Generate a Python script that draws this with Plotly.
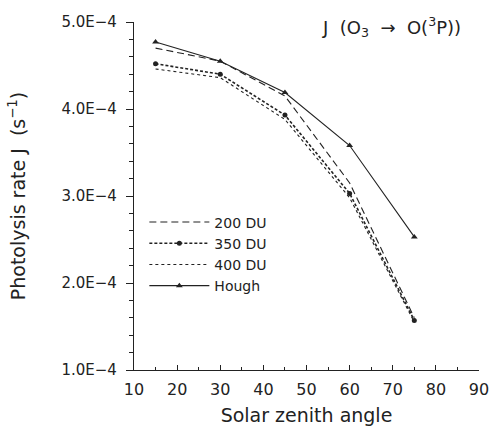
import plotly.graph_objects as go

# Solar zenith angle (degrees)
sza = [15, 30, 45, 60, 75]

# Photolysis rate J(O3 -> O(3P)) in s^-1
j_200du = [4.70e-4, 4.55e-4, 4.15e-4, 3.15e-4, 1.60e-4]
j_350du = [4.52e-4, 4.40e-4, 3.93e-4, 3.03e-4, 1.57e-4]
j_400du = [4.46e-4, 4.36e-4, 3.88e-4, 2.98e-4, 1.55e-4]
j_hough = [4.77e-4, 4.55e-4, 4.19e-4, 3.58e-4, 2.53e-4]

y_tickvals = [1.0e-4, 2.0e-4, 3.0e-4, 4.0e-4, 5.0e-4]
y_ticktext = ["1.0E\u22124", "2.0E\u22124", "3.0E\u22124", "4.0E\u22124", "5.0E\u22124"]
x_tickvals = [10, 20, 30, 40, 50, 60, 70, 80, 90]

FONT = "DejaVu Sans"
INK = "#222222"

fig = go.Figure()

fig.add_trace(go.Scatter(
    x=sza, y=j_200du, name="200 DU", mode="lines",
    line=dict(color=INK, width=1.1, dash="7px,4px"),
))
fig.add_trace(go.Scatter(
    x=sza, y=j_350du, name="350 DU", mode="lines+markers",
    line=dict(color=INK, width=1.6, dash="3px,2px"),
    marker=dict(symbol="circle", size=5, color=INK),
))
fig.add_trace(go.Scatter(
    x=sza, y=j_400du, name="400 DU", mode="lines",
    line=dict(color=INK, width=1.1, dash="dot"),
))
fig.add_trace(go.Scatter(
    x=sza, y=j_hough, name="Hough", mode="lines+markers",
    line=dict(color=INK, width=1.1),
    marker=dict(symbol="triangle-up", size=6, color=INK),
))

fig.add_annotation(
    text="J  (O<sub>3</sub>  \u2192  O(<sup>3</sup>P))",
    xref="paper", yref="paper", x=0.955, y=0.985,
    xanchor="right", yanchor="middle", showarrow=False,
    font=dict(family=FONT, size=18, color=INK),
)

fig.update_layout(
    width=489, height=426,
    margin=dict(l=134, r=10, t=22, b=56),
    paper_bgcolor="white", plot_bgcolor="white",
    font=dict(family=FONT, size=15, color=INK),
    showlegend=True,
    legend=dict(
        x=0.03, y=0.47, xanchor="left", yanchor="top",
        bgcolor="rgba(0,0,0,0)", itemwidth=60,
        font=dict(family=FONT, size=14, color=INK),
        tracegroupgap=0,
    ),
    xaxis=dict(
        range=[10, 90], tickmode="array", tickvals=x_tickvals,
        automargin=False,
        showline=True, linecolor=INK, linewidth=1.2,
        ticks="inside", ticklen=5, tickwidth=1.2, tickcolor=INK,
        minor=dict(tickmode="linear", tick0=10, dtick=5, ticks="inside",
                   ticklen=3, tickwidth=1.2, tickcolor=INK),
        showgrid=False, zeroline=False,
        ticklabeloverflow="allow", ticklabelstandoff=5,
        tickfont=dict(family=FONT, size=16, color=INK),
        title=dict(text="Solar zenith angle", standoff=11,
                   font=dict(family=FONT, size=19, color=INK)),
    ),
    yaxis=dict(
        range=[1.0e-4, 5.0e-4], tickmode="array",
        tickvals=y_tickvals, ticktext=y_ticktext,
        automargin=False,
        showline=True, linecolor=INK, linewidth=1.2,
        ticks="outside", ticklen=7, tickwidth=1.2, tickcolor=INK,
        minor=dict(tickmode="linear", tick0=1.0e-4, dtick=0.2e-4, ticks="outside",
                   ticklen=4, tickwidth=1.2, tickcolor=INK),
        showgrid=False, zeroline=False,
        ticklabelstandoff=6,
        tickfont=dict(family=FONT, size=15, color=INK),
        title=dict(text="Photolysis rate J  (s<sup>\u22121</sup>)", standoff=30,
                   font=dict(family=FONT, size=19, color=INK)),
    ),
)

fig.write_html("out.html")
